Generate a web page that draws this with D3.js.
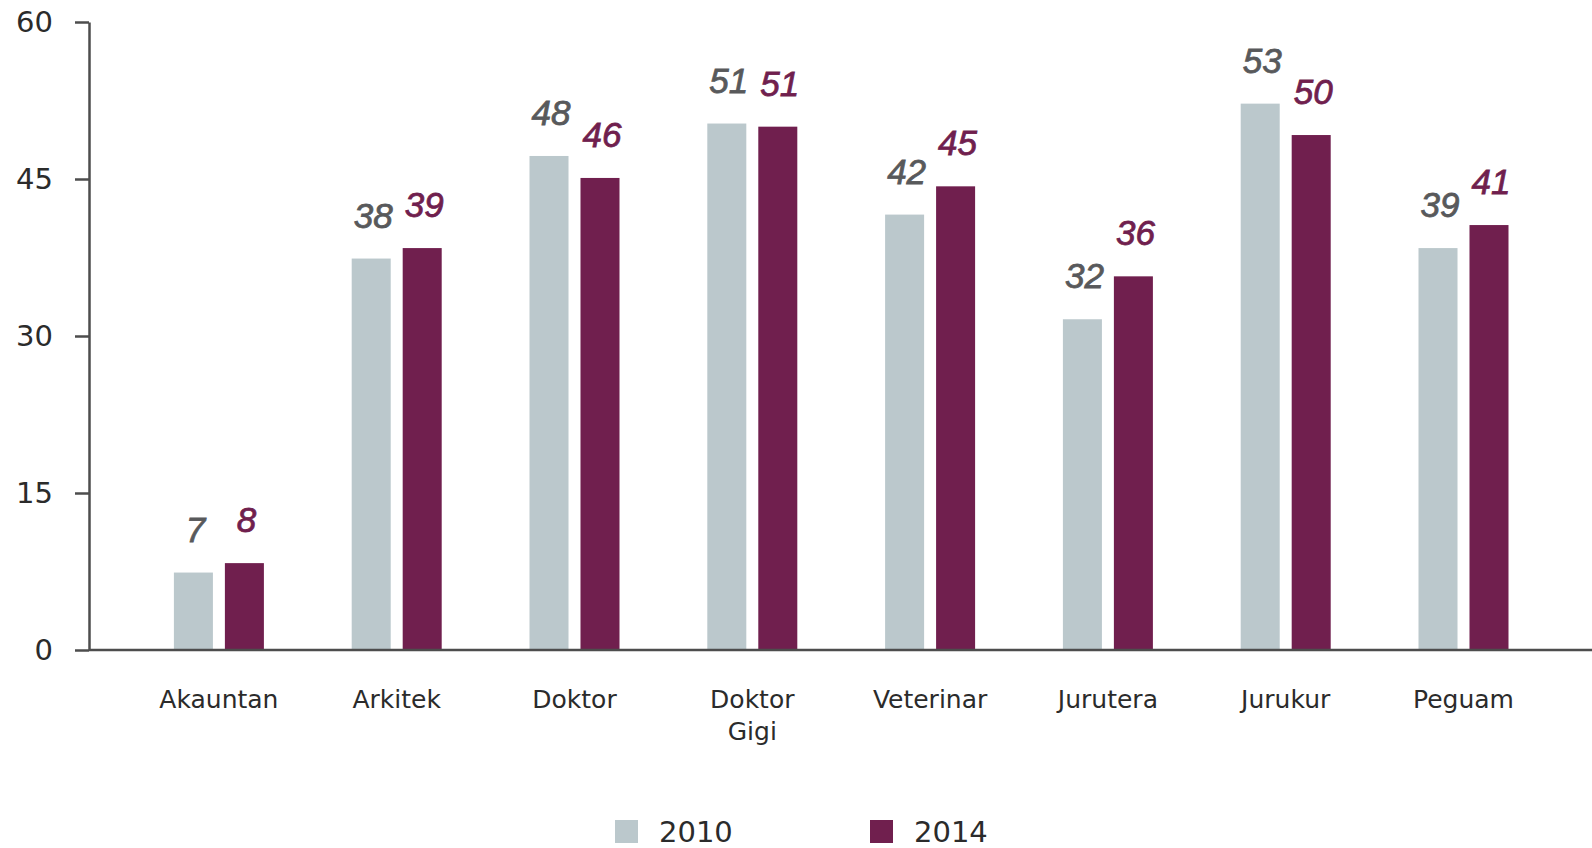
<!DOCTYPE html>
<meta charset="utf-8">
<style>
  body { margin: 0; background: #fff; }
  .tick text { font-family: "DejaVu Sans", sans-serif; fill: #2b2b2b; }
  .cat { font-family: "DejaVu Sans", sans-serif; font-size: 25px; fill: #2b2b2b; }
  .val { font-family: "Liberation Sans", Arial, sans-serif; font-style: italic; font-size: 35px; stroke-width: 0.8px; }
  .legend text { font-family: "DejaVu Sans", sans-serif; font-size: 29px; fill: #2b2b2b; }
</style>
<body>
<script src="https://d3js.org/d3.v7.min.js"></script>
<script>
var categories = ["Akauntan", "Arkitek", "Doktor", "Doktor\nGigi", "Veterinar", "Jurutera", "Jurukur", "Peguam"];
var series = ["2010", "2014"];
var values2010 = [7.4, 37.4, 47.2, 50.3, 41.6, 31.6, 52.2, 38.4];
var values2014 = [8.3, 38.4, 45.1, 50.0, 44.3, 35.7, 49.2, 40.6];
var labels2010 = [7, 38, 48, 51, 42, 32, 53, 39];
var labels2014 = [8, 39, 46, 51, 45, 36, 50, 41];
var yTicks = [0, 15, 30, 45, 60];

var colors = ["#bbc8cc", "#701f4e"];
var labelColors = ["#58595b", "#701f4e"];

width = 1592;
height = 848;

var data = categories.map((c, i) => ({
  cat: c,
  vals: [values2010[i], values2014[i]],
  labs: [labels2010[i], labels2014[i]]
}));

var svg = d3.select("body")
  .append("svg")
  .attr("width", width)
  .attr("height", height);

var y = d3.scaleLinear()
  .domain([0, 60])
  .range([650, 22]);

var x0 = d3.scaleBand()
  .domain(categories)
  .range([130, 1552.4]);

var x1 = d3.scaleBand()
  .domain([0, 1])
  .range([0, 90])
  .paddingInner(0.235);

// y axis
var yAxis = svg.append("g")
  .attr("transform", "translate(89,0)")
  .call(d3.axisLeft(y).tickValues(yTicks).tickSize(14).tickSizeOuter(0).tickPadding(22));
yAxis.selectAll("line, path").attr("stroke", "#4d4d4d").attr("stroke-width", 2.5);
yAxis.selectAll("text").style("font-size", "29px");

// bars
var groups = svg.append("g")
  .selectAll("g")
  .data(data)
  .enter().append("g")
  .attr("transform", d => `translate(${x0(d.cat) + x0.bandwidth() / 2 - 45},0)`);

groups.selectAll("rect")
  .data(d => d.vals)
  .enter().append("rect")
  .attr("x", (d, i) => x1(i))
  .attr("width", x1.bandwidth())
  .attr("y", d => y(d))
  .attr("height", d => y(0) - y(d))
  .attr("fill", (d, i) => colors[i]);

groups.selectAll("text.val")
  .data(d => d.labs.map((l, i) => ({ l: l, v: d.vals[i] })))
  .enter().append("text")
  .attr("class", "val")
  .attr("x", (d, i) => x1(i) + x1.bandwidth() / 2 + 2)
  .attr("y", d => y(d.v) - 31)
  .attr("text-anchor", "middle")
  .attr("fill", (d, i) => labelColors[i])
  .attr("stroke", (d, i) => labelColors[i])
  .text(d => d.l);

// x axis line
svg.append("line")
  .attr("x1", 89).attr("x2", width)
  .attr("y1", y(0)).attr("y2", y(0))
  .attr("stroke", "#4d4d4d")
  .attr("stroke-width", 2.5);

// category labels
svg.append("g")
  .selectAll("text")
  .data(categories)
  .enter().append("text")
  .attr("class", "cat")
  .attr("text-anchor", "middle")
  .attr("x", d => x0(d) + x0.bandwidth() / 2)
  .attr("y", 708)
  .each(function (d) {
    var lines = d.split("\n");
    d3.select(this).selectAll("tspan")
      .data(lines)
      .enter().append("tspan")
      .attr("x", x0(d) + x0.bandwidth() / 2)
      .attr("dy", (l, i) => i ? 31.5 : 0)
      .text(l => l);
  });

// legend
var legend = svg.append("g")
  .attr("class", "legend")
  .selectAll("g")
  .data(series)
  .enter().append("g")
  .attr("transform", (d, i) => `translate(${615 + i * 255},820)`);

legend.append("rect")
  .attr("width", 23)
  .attr("height", 23)
  .attr("fill", (d, i) => colors[i]);

legend.append("text")
  .attr("x", 44)
  .attr("y", 22)
  .text(d => d);
</script>
</body>
</html>
